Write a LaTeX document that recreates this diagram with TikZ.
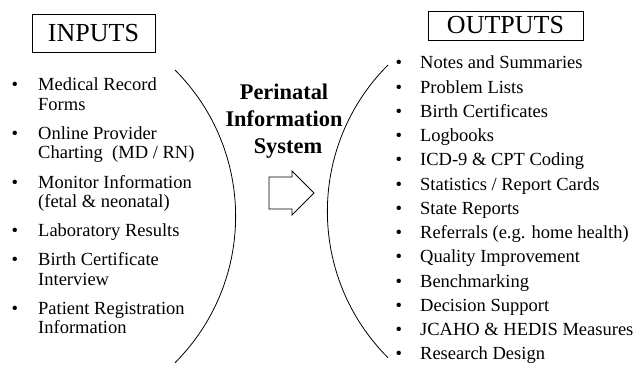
\documentclass[tikz,border=0pt]{standalone}
\usepackage{fontspec}
\setmainfont{Liberation Serif}
\usepackage{tikz}

\newcommand{\bulin}{\llap{\textbullet\hspace{20pt}}}
\newcommand{\bulout}{\llap{\textbullet\hspace{18pt}}}

\begin{document}
\begin{tikzpicture}[x=1pt,y=-1pt,
  heading/.style={draw,line width=0.8pt,inner sep=0pt,font=\fontsize{26}{30}\selectfont},
  entry/.style={anchor=base west,inner sep=0pt,font=\fontsize{18.5}{20}\selectfont},
  title/.style={align=center,font=\bfseries\fontsize{22.4}{27}\selectfont},
  curve/.style={line width=0.8pt}]
  \useasboundingbox (0,0) rectangle (641,366);

  % headings
  \node[heading,minimum width=123pt,minimum height=38pt] (inputs) at (93.5,33) {INPUTS};
  \node[heading,minimum width=155pt,minimum height=29pt] (outputs) at (505.5,25.5) {OUTPUTS};

  % inputs
  \node[entry] (in1) at (38,91) {\bulin Medical Record};
  \node[entry] (in1b) at (38,110.5) {Forms};
  \node[entry] (in2) at (38,139.5) {\bulin Online Provider};
  \node[entry] (in2b) at (38,159) {Charting\ \ (MD / RN)};
  \node[entry] (in3) at (38,188.5) {\bulin Monitor Information};
  \node[entry] (in3b) at (38,208) {(fetal \& neonatal)};
  \node[entry] (in4) at (38,237) {\bulin Laboratory Results};
  \node[entry] (in5) at (38,266) {\bulin Birth Certificate};
  \node[entry] (in5b) at (38,285.5) {Interview};
  \node[entry] (in6) at (38,314.5) {\bulin Patient Registration};
  \node[entry] (in6b) at (38,334) {Information};

  % system
  \draw[curve] (175,70) arc[start angle=-45,end angle=45,radius=207];
  \draw[curve] (388,65) arc[start angle=225,end angle=135,radius=207];
  \node[title] (pis) at (284,121.5) {Perinatal\\Information\\\hspace{8pt}System};
  \draw[curve] (269,177) -- (292,177) -- (292,171) -- (314,193) -- (292,215) -- (292,209) -- (269,209) -- cycle;

  % outputs
  \node[entry] (out1) at (420,69) {\bulout Notes and Summaries};
  \node[entry] (out2) at (420,93.25) {\bulout Problem Lists};
  \node[entry] (out3) at (420,117.5) {\bulout Birth Certificates};
  \node[entry] (out4) at (420,141.75) {\bulout Logbooks};
  \node[entry] (out5) at (420,166) {\bulout ICD-9 \& CPT Coding};
  \node[entry] (out6) at (420,190.25) {\bulout Statistics / Report Cards};
  \node[entry] (out7) at (420,214.5) {\bulout State Reports};
  \node[entry] (out8) at (420,238.75) {\bulout Referrals (e.g. home health)};
  \node[entry] (out9) at (420,263) {\bulout Quality Improvement};
  \node[entry] (out10) at (420,287.25) {\bulout Benchmarking};
  \node[entry] (out11) at (420,311.5) {\bulout Decision Support};
  \node[entry] (out12) at (420,335.75) {\bulout JCAHO \& HEDIS Measures};
  \node[entry] (out13) at (420,360) {\bulout Research Design};
\end{tikzpicture}
\end{document}
